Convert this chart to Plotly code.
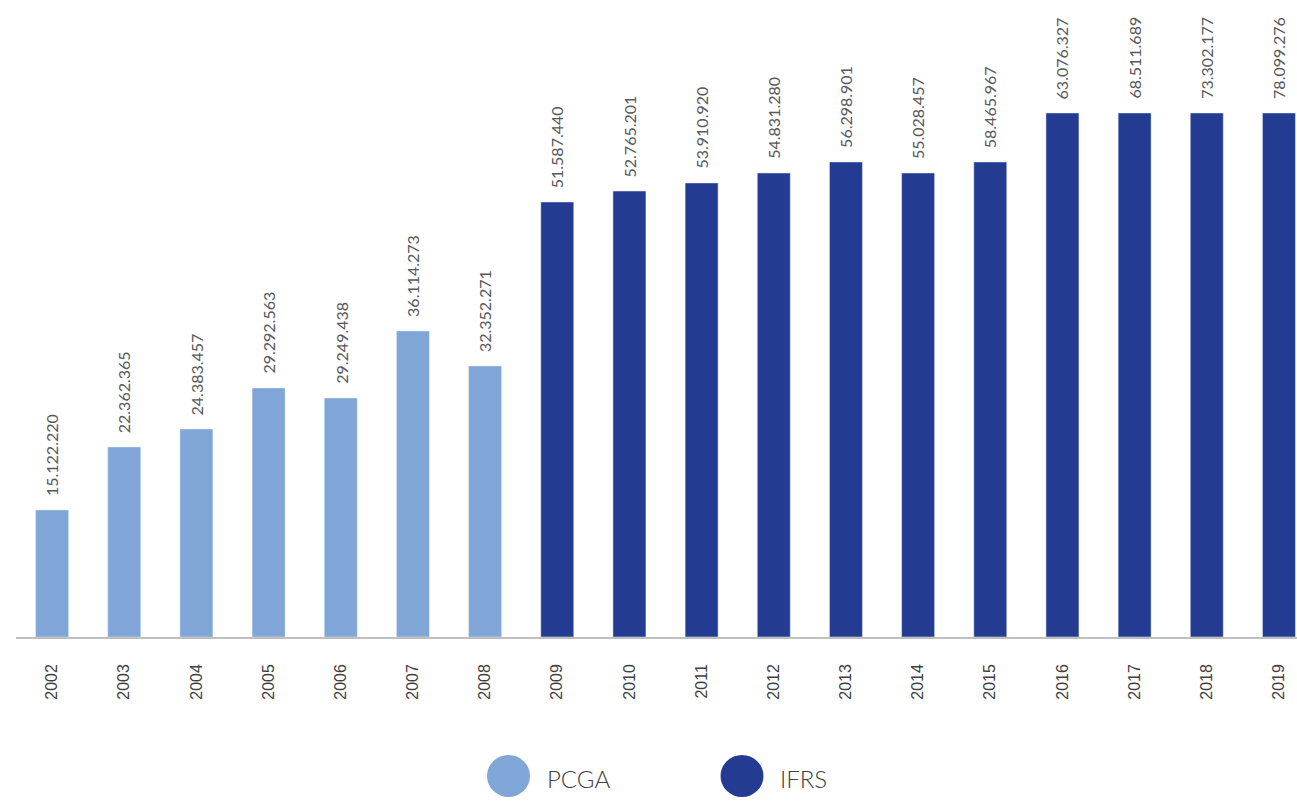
import plotly.graph_objects as go

years = [str(y) for y in range(2002, 2020)]
pcga_years = years[:7]
ifrs_years = years[7:]
# bar heights as drawn in the reference (values)
pcga_heights = [15.07e6, 22.54e6, 24.67e6, 29.54e6, 28.35e6, 36.30e6, 32.15e6]
ifrs_heights = [51.60e6, 52.90e6, 53.86e6, 55.04e6, 56.35e6, 55.04e6, 56.35e6,
                62.16e6, 62.16e6, 62.16e6, 62.16e6]
# value labels as printed
labels = ["15.122.220", "22.362.365", "24.383.457", "29.292.563", "29.249.438",
          "36.114.273", "32.352.271", "51.587.440", "52.765.201", "53.910.920",
          "54.831.280", "56.298.901", "55.028.457", "58.465.967", "63.076.327",
          "68.511.689", "73.302.177", "78.099.276"]
series_names = ["PCGA", "IFRS"]
colors = ["#80A6D7", "#233C92"]

W, H = 1297, 801
ML, MR, MT, MB = 16, 0, 0, 164
PW, PH = W - ML - MR, H - MT - MB

fig = go.Figure()
fig.add_bar(x=pcga_years, y=pcga_heights, name=series_names[0],
            marker_color=colors[0], width=0.457, showlegend=False, hoverinfo="skip")
fig.add_bar(x=ifrs_years, y=ifrs_heights, name=series_names[1],
            marker_color=colors[1], width=0.457, showlegend=False, hoverinfo="skip")

all_heights = pcga_heights + ifrs_heights
annotations = []
for i, (h, t) in enumerate(zip(all_heights, labels)):
    annotations.append(dict(x=i, y=h, xref="x", yref="y", text=t, textangle=-90, showarrow=False,
                            xanchor="center", yanchor="bottom", yshift=12,
                            font=dict(family="Lato, Open Sans, sans-serif", size=16,
                                      color="#595959")))

# custom legend (circles + labels) in paper coordinates
def px_x(px):
    return (px - ML) / PW

def px_y(py):
    return (H - MB - py) / PH

shapes = []
for cx, col, name in [(508.5, colors[0], series_names[0]), (742, colors[1], series_names[1])]:
    shapes.append(dict(type="circle", xref="paper", yref="paper",
                       x0=px_x(cx - 21.5), x1=px_x(cx + 21.5),
                       y0=px_y(797), y1=px_y(755),
                       fillcolor=col, line=dict(width=0)))
    annotations.append(dict(xref="paper", yref="paper", x=px_x(cx + 36), y=px_y(778),
                            text=name, showarrow=False, xanchor="left", yanchor="middle",
                            font=dict(family="Lato, Open Sans, sans-serif", size=24,
                                      color="#404040", weight=300)))

fig.update_layout(
    width=W, height=H,
    margin=dict(l=ML, r=MR, t=MT, b=MB, pad=0),
    paper_bgcolor="white", plot_bgcolor="white",
    barmode="overlay",
    showlegend=False,
    annotations=annotations,
    shapes=shapes,
    xaxis=dict(type="category", range=[-0.5, 17.25], showline=True, linecolor="#BFBFBF",
               linewidth=1.5, showgrid=False, zeroline=False, ticks="", tickangle=-90,
               ticklabelstandoff=19,
               tickfont=dict(family="Liberation Sans, Arial, sans-serif", size=16, color="#404040")),
    yaxis=dict(range=[0, 75.56e6], visible=False, showgrid=False, zeroline=False),
)
fig.write_html("out.html", config={"displayModeBar": False})

with open("out.html", "r", encoding="utf-8") as f:
    html = f.read()
html = html.replace("<head>", "<head><style>html,body{margin:0;padding:0;overflow:hidden;}</style>", 1)
with open("out.html", "w", encoding="utf-8") as f:
    f.write(html)
